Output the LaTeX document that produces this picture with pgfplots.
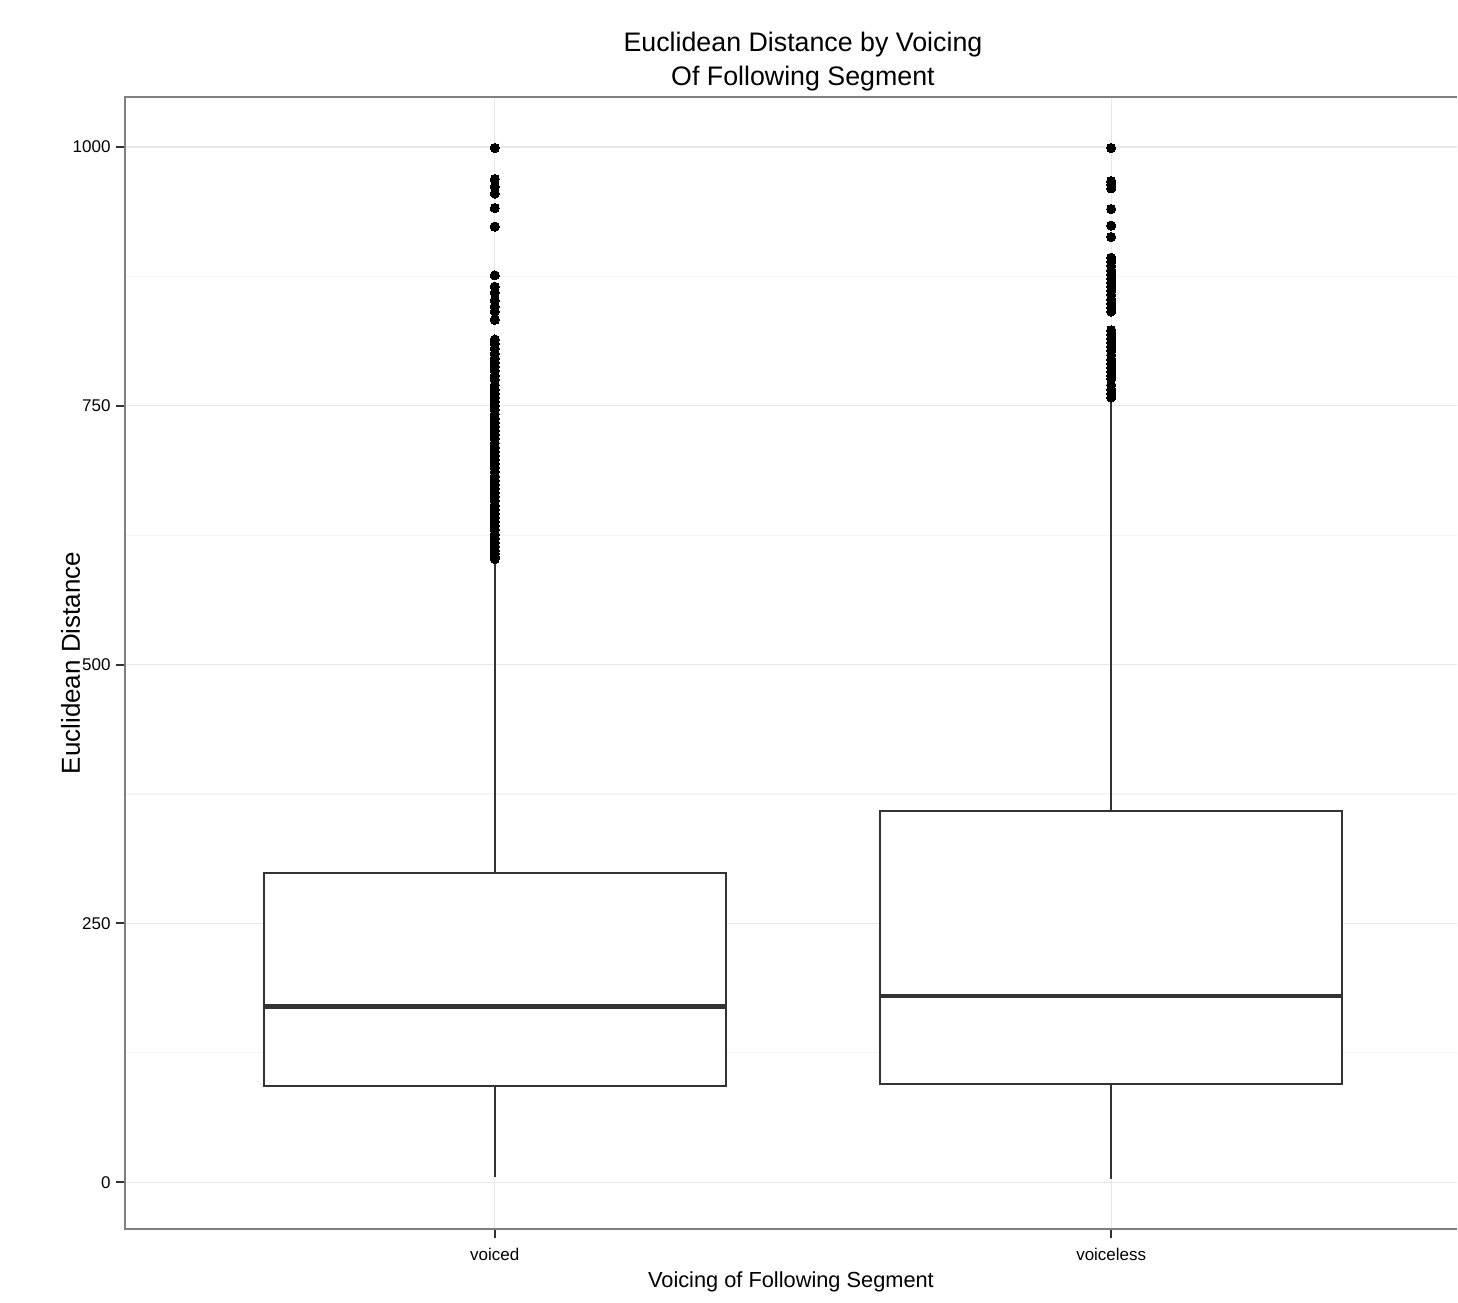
\documentclass[border=0pt]{standalone}
\usepackage{fontspec}
\setmainfont{Liberation Sans}
\usepackage{pgfplots}
\pgfplotsset{compat=1.18}
\usepgfplotslibrary{statistics}
\usetikzlibrary{calc}
\definecolor{grey20}{HTML}{333333}
\definecolor{grey50}{HTML}{7F7F7F}
\definecolor{gridmaj}{HTML}{E8E8E8}
\definecolor{gridmin}{HTML}{F4F4F4}
\begin{document}
\begin{tikzpicture}
\begin{axis}[
  name=ax,
  scale only axis,
  width=666.5pt, height=566.5pt,
  xmin=0.4, xmax=2.561,
  ymin=-45.4, ymax=1048.3,
  axis line style={draw=none},
  clip=false,
  xtick={1,2}, xticklabels={voiced,voiceless},
  ytick={0,250,500,750,1000},
  minor ytick={125,375,625,875},
  minor tick length=0pt,
  major tick length=4.5pt,
  tick align=outside,
  xtick pos=lower, ytick pos=left,
  tick style={color=grey20, line width=1pt},
  xmajorgrids, ymajorgrids, yminorgrids,
  major grid style={color=gridmaj, line width=0.6pt},
  minor grid style={color=gridmin, line width=0.6pt},
  /pgf/number format/assume math mode=true,
  /pgf/number format/set thousands separator={},
  yticklabel style={font=\fontsize{8.5}{10}\selectfont, inner sep=0pt, anchor=east, xshift=-2.5pt},
  xticklabel style={font=\fontsize{8.5}{10}\selectfont, inner sep=0pt, anchor=north, yshift=-5pt},
  title={Euclidean Distance by Voicing\\Of Following Segment},
  title style={at={(0.509,1)}, anchor=south, align=center, inner sep=0pt, yshift=-3.5pt,
    font=\fontsize{13.4}{17.5}\selectfont},
  xlabel={Voicing of Following Segment},
  xlabel style={at={([yshift=-29pt]axis description cs:0.5,0)}, anchor=base, inner sep=0pt,
    font=\fontsize{10.9}{13}\selectfont},
  ylabel={Euclidean Distance},
  ylabel style={at={([xshift=-22.5pt]axis description cs:0,0.5)}, anchor=base, inner sep=0pt,
    font=\fontsize{13}{15}\selectfont},
  boxplot/draw direction=y,
]
\addplot[
  boxplot prepared={
    draw position=1,
    lower whisker=4.8, lower quartile=93.2, median=169.7,
    upper quartile=298.3, upper whisker=601.4,
    box extend=0.75, whisker extend=0,
    every box/.style={draw=grey20, fill=white, line width=1pt},
    every whisker/.style={draw=grey20, line width=1pt},
    every median/.style={draw=grey20, line width=2.1pt},
  },
  mark=*, mark size=2.3pt, mark options={fill=black, draw=black, line width=0pt},
] table[row sep=\\, y index=0] {
data\\
999\\ 969\\ 962\\ 955\\ 941\\ 923\\ 876\\
865\\ 859\\ 852\\ 846\\ 841\\ 833\\ 814\\ 810\\ 805\\ 800\\ 796\\ 792\\
788\\ 784\\ 779\\ 775\\ 770\\ 766\\ 762\\ 758\\ 754\\ 750\\ 746\\ 742\\
738\\ 734\\ 730\\ 726\\ 722\\ 718\\ 714\\ 710\\ 706\\ 702\\ 698\\ 694\\
690\\ 686\\ 682\\ 678\\ 674\\ 670\\ 666\\ 662\\ 658\\ 654\\ 650\\ 646\\
642\\ 638\\ 634\\ 630\\ 626\\ 622\\ 618\\ 614\\ 610\\ 607\\ 604\\ 602\\
};
\addplot[
  boxplot prepared={
    draw position=2,
    lower whisker=2.9, lower quartile=94.6, median=179.5,
    upper quartile=358.1, upper whisker=755.8,
    box extend=0.75, whisker extend=0,
    every box/.style={draw=grey20, fill=white, line width=1pt},
    every whisker/.style={draw=grey20, line width=1pt},
    every median/.style={draw=grey20, line width=2.1pt},
  },
  mark=*, mark size=2.3pt, mark options={fill=black, draw=black, line width=0pt},
] table[row sep=\\, y index=0] {
data\\
999\\ 967\\ 964\\ 960\\ 940\\ 924\\ 913\\
893\\ 889\\ 885\\ 881\\ 877\\ 873\\ 869\\ 865\\ 861\\ 857\\ 853\\ 849\\
845\\ 841\\ 823\\ 819\\ 815\\ 811\\ 807\\ 803\\ 799\\ 795\\ 791\\ 787\\
783\\ 779\\ 776\\ 770\\ 766\\ 762\\ 758\\
};
\draw[grey50, line width=1pt] (rel axis cs:1,0) -- (rel axis cs:0,0) -- (rel axis cs:0,1) -- (rel axis cs:1,1);
\end{axis}
\useasboundingbox ($(ax.south west)+(-62.5pt,-36.5pt)$) rectangle ($(ax.north east)+(0pt,48.5pt)$);
\end{tikzpicture}
\end{document}
